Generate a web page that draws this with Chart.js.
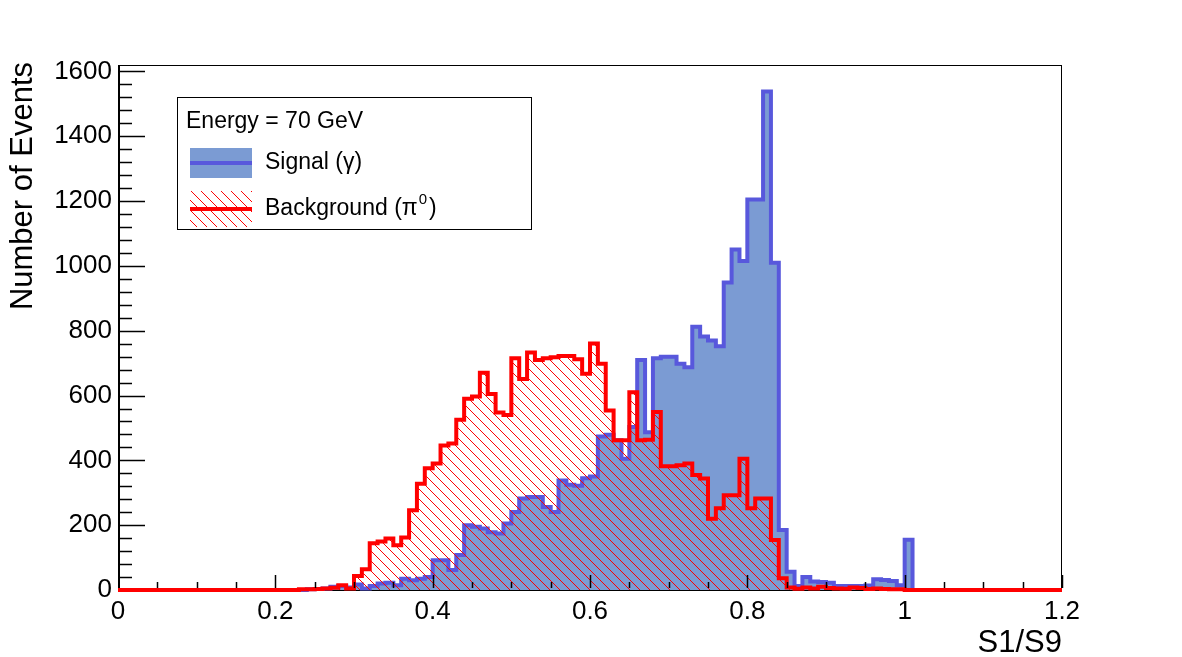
<!DOCTYPE html>
<html>
<head>
<meta charset="utf-8">
<script src="https://cdn.jsdelivr.net/npm/chart.js@4.4.1/dist/chart.umd.min.js"></script>
<style>
  html, body { margin: 0; padding: 0; background: #fff; }
</style>
</head>
<body>
<canvas id="grafico" width="1182" height="657"></canvas>
<script>
// S1/S9 histogram, 120 bins of 0.01 from 0 to 1.2
const binWidth = 0.01;

const signal = [
  0, 0, 0, 0, 0, 0, 0, 0, 0, 0,
  0, 0, 0, 0, 0, 0, 0, 0, 0, 0,
  0, 0, 0, 0, 2, 3, 5, 10, 12, 8,
  17, 5, 12, 20, 22, 15, 35, 30, 35, 40,
  92, 92, 62, 108, 200, 195, 190, 178, 174, 205,
  241, 282, 287, 287, 256, 241, 338, 325, 322, 345,
  350, 474, 479, 462, 405, 503, 710, 487, 715, 720,
  720, 698, 687, 812, 782, 770, 752, 949, 1051, 1015,
  1205, 1205, 1538, 1010, 185, 56, 12, 40, 26, 25,
  22, 12, 12, 12, 12, 14, 33, 31, 28, 15,
  155, 0, 0, 0, 0, 0, 0, 0, 0, 0,
  0, 0, 0, 0, 0, 0, 0, 0, 0, 0
];

const background = [
  0, 0, 0, 0, 0, 0, 0, 0, 0, 0,
  0, 0, 0, 0, 0, 0, 0, 0, 0, 0,
  0, 0, 0, 2, 2, 3, 5, 7, 15, 5,
  43, 64, 144, 150, 159, 138, 162, 246, 328, 376,
  390, 446, 452, 525, 590, 597, 670, 605, 548, 540,
  715, 651, 733, 710, 715, 718, 722, 722, 712, 667,
  761, 698, 554, 462, 462, 610, 462, 464, 549, 382,
  382, 385, 390, 355, 344, 220, 252, 292, 292, 405,
  252, 282, 282, 154, 36, 8, 4, 8, 5, 10,
  6, 5, 4, 8, 6, 3, 5, 3, 2, 2,
  0, 0, 0, 0, 0, 0, 0, 0, 0, 0,
  0, 0, 0, 0, 0, 0, 0, 0, 0, 0
];

const xTicks = [0, 0.2, 0.4, 0.6, 0.8, 1, 1.2];
const yTicks = [0, 200, 400, 600, 800, 1000, 1200, 1400, 1600];

const azulFill = "#7b9bd3";
const azulLinha = "#5858dc";
const vermelho = "#ff0000";
const fonte = "'Liberation Sans', Arial, sans-serif";

// hatch pattern \\\ like ROOT fill style 3004
function hachura() {
  const c = document.createElement("canvas");
  c.width = 10; c.height = 10;
  const g = c.getContext("2d");
  g.strokeStyle = vermelho;
  g.lineWidth = 1;
  g.beginPath();
  g.moveTo(-1, -1); g.lineTo(11, 11);
  g.moveTo(9, -1); g.lineTo(11, 1);
  g.moveTo(-1, 9); g.lineTo(1, 11);
  g.stroke();
  return g.createPattern(c, "repeat");
}
const padrao = hachura();

function pontos(vals) {
  const p = vals.map((v, i) => ({ x: i * binWidth, y: v }));
  p.push({ x: vals.length * binWidth, y: 0 });
  return p;
}

function linha(ctx, x1, y1, x2, y2) {
  ctx.beginPath();
  ctx.moveTo(x1, y1);
  ctx.lineTo(x2, y2);
  ctx.stroke();
}

const moldura = {
  id: "moldura",
  beforeDatasetsDraw(c) {
    const { ctx, chartArea: a } = c;
    ctx.save();
    ctx.strokeStyle = "#000";
    ctx.lineWidth = 1;
    ctx.strokeRect(a.left + 0.5, a.top + 0.5, a.right - a.left - 1, a.bottom - a.top);
    ctx.lineWidth = 2;
    linha(ctx, a.left + 1, a.top, a.left + 1, a.bottom);
    linha(ctx, a.left, a.bottom, a.right, a.bottom);
    ctx.restore();
  },
  afterDatasetsDraw(c) {
    const { ctx, chartArea: a, scales: { x, y } } = c;
    ctx.save();
    ctx.strokeStyle = "#000";
    ctx.lineWidth = 1.5;
    for (let v = 40; v <= 1620; v += 40) {
      const py = Math.round(y.getPixelForValue(v)) + 0.5;
      const len = v % 200 === 0 ? 27 : 14;
      linha(ctx, a.left, py, a.left + len, py);
    }
    for (let k = 1; k <= 24; k++) {
      const px = Math.round(x.getPixelForValue(k * 0.05)) + 0.5;
      const len = k % 4 === 0 ? 15 : 8;
      linha(ctx, px, a.bottom - 2, px, a.bottom - len);
    }

    // axis titles
    ctx.fillStyle = "#000";
    ctx.font = "31px " + fonte;
    ctx.textBaseline = "middle";
    ctx.textAlign = "right";
    ctx.fillText("S1/S9", a.right, 643);
    ctx.save();
    ctx.translate(23, a.top - 3);
    ctx.rotate(-Math.PI / 2);
    ctx.fillText("Number of Events", 0, 0);
    ctx.restore();

    // legend
    ctx.fillStyle = "#fff";
    ctx.fillRect(177, 97, 354, 132);
    ctx.strokeStyle = "#000";
    ctx.lineWidth = 1;
    ctx.strokeRect(177.5, 97.5, 354, 132);

    ctx.textAlign = "left";
    ctx.fillStyle = "#000";
    ctx.font = "23px " + fonte;
    ctx.fillText("Energy = 70 GeV", 186, 122);

    ctx.fillStyle = azulFill;
    ctx.fillRect(190, 148, 62, 30);
    ctx.strokeStyle = azulLinha;
    ctx.lineWidth = 4;
    linha(ctx, 190, 163, 252, 163);
    ctx.fillStyle = "#000";
    ctx.fillText("Signal (\u03b3)", 265, 163);

    ctx.fillStyle = padrao;
    ctx.fillRect(190, 191, 62, 36);
    ctx.strokeStyle = vermelho;
    ctx.lineWidth = 4;
    linha(ctx, 190, 209, 252, 209);
    ctx.fillStyle = "#000";
    const t1 = "Background (\u03c0";
    ctx.fillText(t1, 265, 209);
    let w = ctx.measureText(t1).width;
    ctx.font = "15px " + fonte;
    ctx.fillText("0", 265 + w + 1, 200);
    const w0 = ctx.measureText("0").width;
    ctx.font = "23px " + fonte;
    ctx.fillText(")", 265 + w + w0 + 3, 209);
    ctx.restore();
  }
};

const chart = new Chart(document.getElementById("grafico"), {
  type: "line",
  data: {
    datasets: [
      {
        label: "Background (\u03c0\u2070)",
        data: pontos(background),
        stepped: true,
        borderColor: vermelho,
        borderWidth: 4,
        backgroundColor: padrao,
        fill: "origin",
        pointRadius: 0,
        order: 0,
        clip: false
      },
      {
        label: "Signal (\u03b3)",
        data: pontos(signal),
        stepped: true,
        borderColor: azulLinha,
        borderWidth: 4,
        backgroundColor: azulFill,
        fill: "origin",
        pointRadius: 0,
        order: 1,
        clip: false
      }
    ]
  },
  options: {
    responsive: false,
    animation: false,
    events: [],
    layout: { padding: { top: 65, right: 120, left: 0, bottom: 0 } },
    plugins: {
      legend: { display: false },
      tooltip: { enabled: false }
    },
    scales: {
      x: {
        type: "linear",
        min: 0,
        max: 1.2,
        grid: { display: false, drawTicks: false },
        border: { display: false },
        afterBuildTicks: s => { s.ticks = xTicks.map(v => ({ value: v })); },
        afterFit: s => { s.height = 67; },
        ticks: {
          color: "#000",
          font: { family: fonte, size: 26 },
          padding: 6,
          maxRotation: 0,
          autoSkip: false,
          callback: v => String(+v.toFixed(2))
        }
      },
      y: {
        type: "linear",
        min: 0,
        max: 1620,
        grid: { display: false, drawTicks: false },
        border: { display: false },
        afterBuildTicks: s => { s.ticks = yTicks.map(v => ({ value: v })); },
        afterFit: s => { s.width = 118; },
        ticks: {
          color: "#000",
          font: { family: fonte, size: 26 },
          padding: 6,
          autoSkip: false,
          callback: v => String(v)
        }
      }
    }
  },
  plugins: [moldura]
});
</script>
</body>
</html>
